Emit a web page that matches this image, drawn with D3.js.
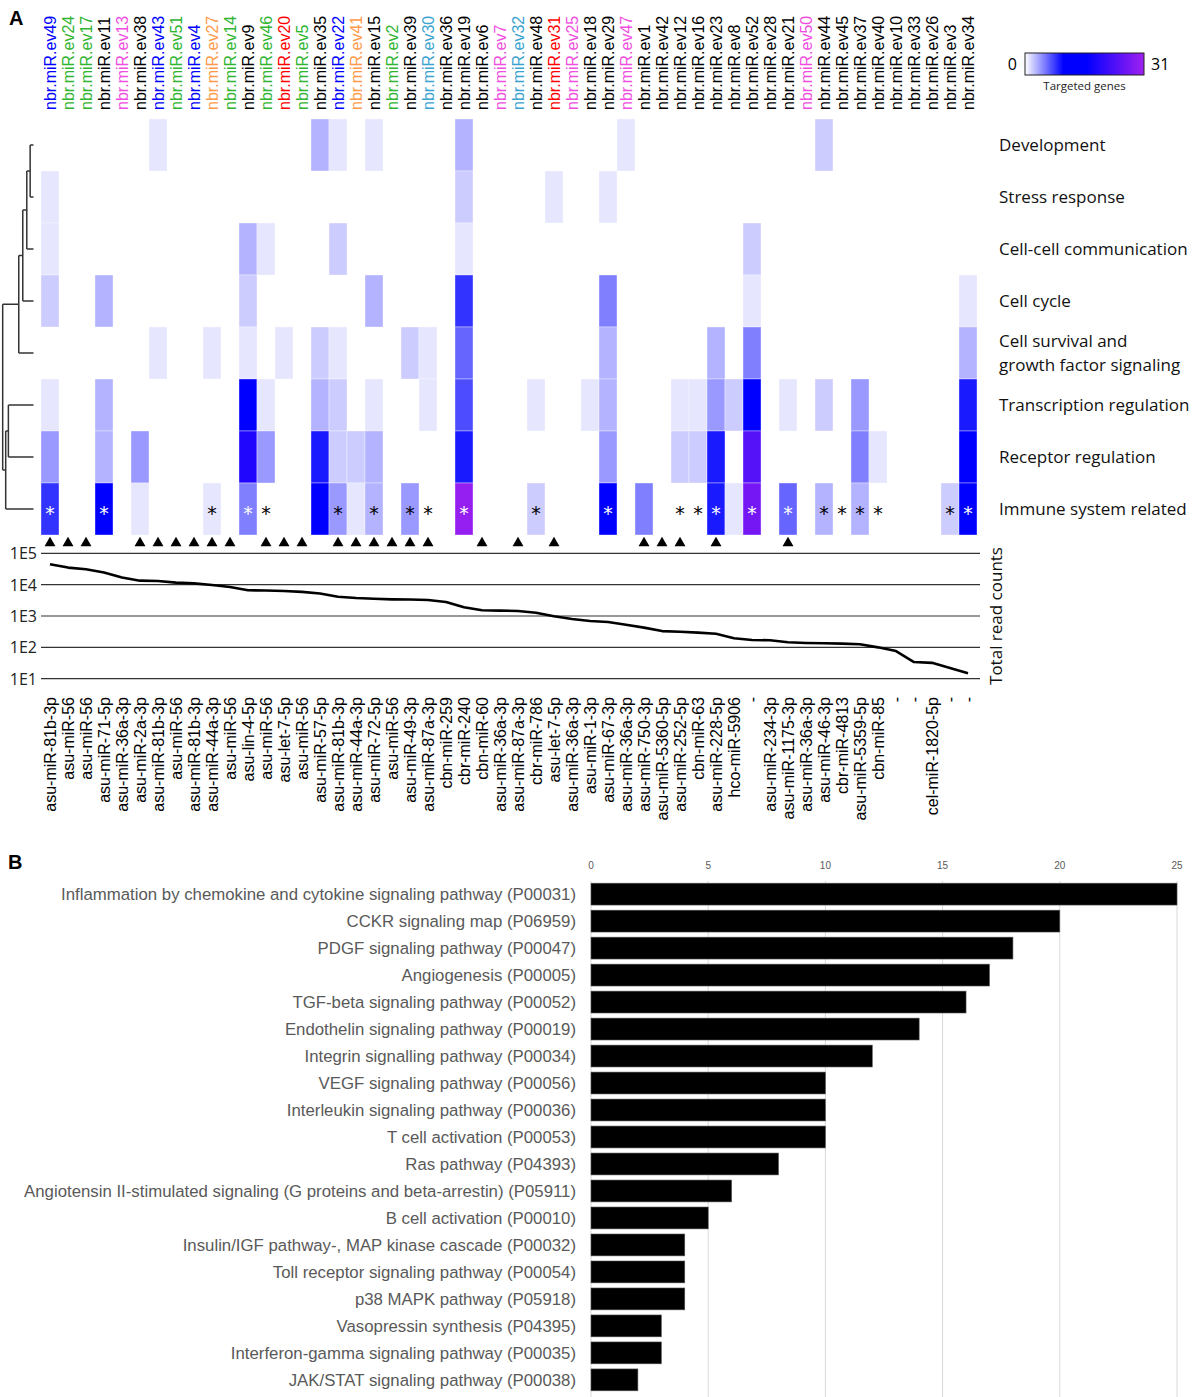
<!DOCTYPE html>
<html>
<head>
<meta charset="utf-8">
<script src="https://cdn.jsdelivr.net/npm/d3@7"></script>
<style>
  body { margin: 0; background: #fff; }
  svg { display: block; }
</style>
</head>
<body>
<div id="chart"></div>
<script>
// ---- data: panel A ----
const topLabels = ["nbr.miR.ev49","nbr.miR.ev24","nbr.miR.ev17","nbr.miR.ev11","nbr.miR.ev13","nbr.miR.ev38","nbr.miR.ev43","nbr.miR.ev51","nbr.miR.ev4","nbr.miR.ev27",
  "nbr.miR.ev14","nbr.miR.ev9","nbr.miR.ev46","nbr.miR.ev20","nbr.miR.ev5","nbr.miR.ev35","nbr.miR.ev22","nbr.miR.ev41","nbr.miR.ev15","nbr.miR.ev2",
  "nbr.miR.ev39","nbr.miR.ev30","nbr.miR.ev36","nbr.miR.ev19","nbr.miR.ev6","nbr.miR.ev7","nbr.miR.ev32","nbr.miR.ev48","nbr.miR.ev31","nbr.miR.ev25",
  "nbr.miR.ev18","nbr.miR.ev29","nbr.miR.ev47","nbr.miR.ev1","nbr.miR.ev42","nbr.miR.ev12","nbr.miR.ev16","nbr.miR.ev23","nbr.miR.ev8","nbr.miR.ev52",
  "nbr.miR.ev28","nbr.miR.ev21","nbr.miR.ev50","nbr.miR.ev44","nbr.miR.ev45","nbr.miR.ev37","nbr.miR.ev40","nbr.miR.ev10","nbr.miR.ev33","nbr.miR.ev26",
  "nbr.miR.ev3","nbr.miR.ev34"];
// b blue, g green, k black, m magenta, o orange, r red, c cyan
const topGroups = ["b","g","g","k","m","k","b","g","b","o",
  "g","k","g","r","g","k","b","o","k","g",
  "k","c","k","k","k","m","c","k","r","m",
  "k","k","m","k","k","k","k","k","k","k",
  "k","k","m","k","k","k","k","k","k","k",
  "k","k"];
const bottomLabels = ["asu-miR-81b-3p","asu-miR-56","asu-miR-56","asu-miR-71-5p","asu-miR-36a-3p","asu-miR-2a-3p","asu-miR-81b-3p","asu-miR-56","asu-miR-81b-3p","asu-miR-44a-3p",
  "asu-miR-56","asu-lin-4-5p","asu-miR-56","asu-let-7-5p","asu-miR-56","asu-miR-57-5p","asu-miR-81b-3p","asu-miR-44a-3p","asu-miR-72-5p","asu-miR-56",
  "asu-miR-49-3p","asu-miR-87a-3p","cbn-miR-259","cbr-miR-240","cbn-miR-60","asu-miR-36a-3p","asu-miR-87a-3p","cbr-miR-786","asu-let-7-5p","asu-miR-36a-3p",
  "asu-miR-1-3p","asu-miR-67-3p","asu-miR-36a-3p","asu-miR-750-3p","asu-miR-5360-5p","asu-miR-252-5p","cbn-miR-63","asu-miR-228-5p","hco-miR-5906","-",
  "asu-miR-234-3p","asu-miR-1175-3p","asu-miR-36a-3p","asu-miR-46-3p","cbr-miR-4813","asu-miR-5359-5p","cbn-miR-85","-","-","cel-miR-1820-5p",
  "-","-"];
const readCounts = [44600,35000,31000,24500,17000,13400,13100,11600,11000,9700,
  8400,6600,6500,6300,5900,5200,4100,3750,3550,3400,
  3350,3250,2800,1900,1520,1480,1450,1270,980,800,
  690,645,525,425,330,315,295,270,196,172,
  168,145,138,135,131,126,100,76,34,32,
  22,15];
const rowNames = ["Development","Stress response","Cell-cell communication","Cell cycle",
  "Cell survival and\ngrowth factor signaling","Transcription regulation","Receptor regulation","Immune system related"];

// targeted genes per category (one value per column)
const development = [0,0,0,0,0,0,1,0,0,0, 0,0,0,0,0,3,1,0,1,0, 0,0,0,3,0,0,0,0,0,0, 0,0,1,0,0,0,0,0,0,0, 0,0,0,2,0,0,0,0,0,0, 0,0];
const stress      = [1,0,0,0,0,0,0,0,0,0, 0,0,0,0,0,0,0,0,0,0, 0,0,0,2,0,0,0,0,1,0, 0,1,0,0,0,0,0,0,0,0, 0,0,0,0,0,0,0,0,0,0, 0,0];
const cellCell    = [1,0,0,0,0,0,0,0,0,0, 0,3,1,0,0,0,2,0,0,0, 0,0,0,1,0,0,0,0,0,0, 0,0,0,0,0,0,0,0,0,2, 0,0,0,0,0,0,0,0,0,0, 0,0];
const cellCycle   = [2,0,0,3,0,0,0,0,0,0, 0,2,0,0,0,0,0,0,3,0, 0,0,0,8,0,0,0,0,0,0, 0,5,0,0,0,0,0,0,0,1, 0,0,0,0,0,0,0,0,0,0, 0,1];
const survival    = [0,0,0,0,0,0,1,0,0,1, 0,1,0,1,0,2,1,0,0,0, 2,1,0,6,0,0,0,0,0,0, 0,3,0,0,0,0,0,3,0,5, 0,0,0,0,0,0,0,0,0,0, 0,3];
const transcription = [1,0,0,3,0,0,0,0,0,0, 0,12,1,0,0,3,2,0,1,0, 0,1,0,7,0,0,0,1,0,0, 1,3,0,0,0,1,1,4,2,12, 0,1,0,2,0,4,0,0,0,0, 0,9];
const receptor    = [4,0,0,3,0,4,0,0,0,0, 0,19,4,0,0,9,2,2,3,0, 0,0,0,9,0,0,0,0,0,0, 0,4,0,0,0,2,2,9,0,24, 0,0,0,0,0,5,1,0,0,0, 0,12];
const immune      = [8,0,0,12,0,1,0,0,0,1, 0,5,0,0,0,12,4,1,3,0, 4,0,0,30,0,0,0,2,0,0, 0,12,0,5,0,0,0,9,1,27, 0,6,0,3,0,3,0,0,0,0, 2,12];
const heatRows = [development, stress, cellCell, cellCycle, survival, transcription, receptor, immune];

const starCols = [0,3,9,11,12,16,18,20,21,23,27,31,35,36,37,39,41,43,44,45,46,50,51];
const triangleCols = [0,1,2,5,6,7,8,9,10,12,13,14,16,17,18,19,20,21,24,26,28,33,34,35,37,41];

// row clustering (heights are relative)
const dendro = {h: 0.92, children: [
  {h: 0.44, children: [
    {h: 0.32, children: [
      {h: 0.2, children: [
        {h: 0.1, children: [{row: 0}, {row: 1}]},
        {row: 2}]},
      {row: 3}]},
    {row: 4}]},
  {h: 0.83, children: [
    {h: 0.75, children: [{row: 5}, {row: 6}]},
    {row: 7}]}
]};

// ---- data: panel B ----
const pathways = ["Inflammation by chemokine and cytokine signaling pathway (P00031)","CCKR signaling map (P06959)",
  "PDGF signaling pathway (P00047)","Angiogenesis (P00005)","TGF-beta signaling pathway (P00052)",
  "Endothelin signaling pathway (P00019)","Integrin signalling pathway (P00034)","VEGF signaling pathway (P00056)",
  "Interleukin signaling pathway (P00036)","T cell activation (P00053)","Ras pathway (P04393)",
  "Angiotensin II-stimulated signaling (G proteins and beta-arrestin) (P05911)","B cell activation (P00010)",
  "Insulin/IGF pathway-, MAP kinase cascade (P00032)","Toll receptor signaling pathway (P00054)",
  "p38 MAPK pathway (P05918)","Vasopressin synthesis (P04395)","Interferon-gamma signaling pathway (P00035)",
  "JAK/STAT signaling pathway (P00038)"];
const pathwayGenes = [25,20,18,17,16,14,12,10,10,10,8,6,5,4,4,4,3,3,2];

// ---- drawing ----
const W = 1192, H = 1397;
const svg = d3.select("#chart").append("svg")
    .attr("width", W).attr("height", H)
    .attr("viewBox", [0, 0, W, H]);

const groupColor = {b: "#0000ff", g: "#2fb52f", k: "#000000", m: "#f04ee0", o: "#ff9a4a", r: "#ff0000", c: "#3aa3cf"};
const cols = d3.range(topLabels.length);
const x = d3.scaleBand().domain(cols).range([41, 977]);
const y = d3.scaleBand().domain(d3.range(rowNames.length)).range([119, 535]);
const color = d3.scaleLinear().domain([0, 10, 16, 31])
    .range(["#ffffff", "#0000ff", "#0000ff", "#a020f0"]);
const cx = i => x(i) + x.bandwidth() / 2;

// panel letter
svg.append("text").attr("x", 9).attr("y", 25)
    .attr("font-family", "Liberation Sans, Arial, sans-serif")
    .attr("font-weight", "bold").attr("font-size", 20).text("A");

// top labels
svg.append("g").selectAll("text")
    .data(cols)
    .join("text")
    .attr("transform", i => `translate(${cx(i)},110) rotate(-90)`)
    .attr("dy", "0.36em")
    .attr("font-family", "Liberation Sans, Arial, sans-serif")
    .attr("font-size", 16)
    .attr("fill", i => groupColor[topGroups[i]])
    .text(i => topLabels[i]);

// heatmap cells
const cells = [];
heatRows.forEach((row, r) => row.forEach((v, c) => { if (v > 0) cells.push({r, c, v}); }));
svg.append("g").selectAll("rect")
    .data(cells)
    .join("rect")
    .attr("x", d => x(d.c))
    .attr("y", d => y(d.r))
    .attr("width", x.bandwidth())
    .attr("height", y.bandwidth())
    .attr("fill", d => color(d.v))
    .attr("stroke", "#ffffff")
    .attr("stroke-opacity", 0.6)
    .attr("stroke-width", 0.6);

// asterisks on immune row
svg.append("g").selectAll("text")
    .data(starCols)
    .join("text")
    .attr("x", c => cx(c))
    .attr("y", y(7) + y.bandwidth() / 2 + 11)
    .attr("text-anchor", "middle")
    .attr("font-family", "DejaVu Sans, sans-serif")
    .attr("font-size", 19)
    .attr("fill", c => immune[c] >= 5 ? "#ffffff" : "#000000")
    .text("*");

// row labels
const rowText = svg.append("g").selectAll("text")
    .data(rowNames)
    .join("text")
    .attr("x", 999)
    .attr("y", (d, i) => y(i) + y.bandwidth() / 2 + 6)
    .attr("font-family", "Open Sans, sans-serif")
    .attr("font-size", 17)
    .attr("fill", "#111");
rowText.each(function(d) {
    const parts = d.split("\n");
    const t = d3.select(this);
    parts.forEach((p, k) => {
        t.append("tspan").attr("x", 999)
            .attr("dy", k === 0 ? (parts.length > 1 ? -12 : 0) : 24)
            .text(p);
    });
});

// dendrogram
const root = d3.hierarchy(dendro);
root.eachAfter(n => {
    n.py = n.data.row !== undefined ? y(n.data.row) + y.bandwidth() / 2 : d3.mean(n.children, c => c.py);
    n.hh = n.data.h || 0;
});
const dx = d3.scaleLinear().domain([0, 1]).range([33.5, 0]);
const dg = svg.append("g").attr("stroke", "#333").attr("stroke-width", 1.5).attr("fill", "none");
root.descendants().filter(n => n.children).forEach(n => {
    dg.append("line")
        .attr("x1", dx(n.hh)).attr("x2", dx(n.hh))
        .attr("y1", d3.min(n.children, c => c.py)).attr("y2", d3.max(n.children, c => c.py));
    n.children.forEach(c => {
        dg.append("line")
            .attr("x1", dx(n.hh)).attr("x2", dx(c.hh))
            .attr("y1", c.py).attr("y2", c.py);
    });
});

// legend
const lgX = 1025, lgY = 53, lgW = 119, lgH = 22;
const grad = svg.append("defs").append("linearGradient").attr("id", "lg");
grad.selectAll("stop")
    .data(d3.range(0, 32))
    .join("stop")
    .attr("offset", v => (v / 31 * 100) + "%")
    .attr("stop-color", v => color(v));
svg.append("rect").attr("x", lgX).attr("y", lgY).attr("width", lgW).attr("height", lgH)
    .attr("fill", "url(#lg)").attr("stroke", "#222").attr("stroke-width", 1);
svg.append("text").attr("x", lgX - 8).attr("y", lgY + 17).attr("text-anchor", "end")
    .attr("font-family", "Open Sans, sans-serif").attr("font-size", 16).text("0");
svg.append("text").attr("x", lgX + lgW + 7).attr("y", lgY + 17)
    .attr("font-family", "Open Sans, sans-serif").attr("font-size", 16).text("31");
svg.append("text").attr("x", lgX + lgW / 2).attr("y", lgY + 37).attr("text-anchor", "middle")
    .attr("font-family", "Open Sans, sans-serif").attr("font-size", 11.5).attr("fill", "#222")
    .text("Targeted genes");

// triangles
svg.append("g").selectAll("path")
    .data(triangleCols)
    .join("path")
    .attr("transform", c => `translate(${cx(c)},543)`)
    .attr("d", d3.symbol(d3.symbolTriangle, 52))
    .attr("fill", "#000");

// read count line chart
const yr = d3.scaleLog().domain([10, 1e5]).range([678.7, 553.3]);
const decades = [1e5, 1e4, 1e3, 1e2, 1e1];
svg.append("g").selectAll("line")
    .data(decades)
    .join("line")
    .attr("x1", 41).attr("x2", 980)
    .attr("y1", d => yr(d)).attr("y2", d => yr(d))
    .attr("stroke", "#333").attr("stroke-width", 1.2);
svg.append("g").selectAll("text")
    .data(decades)
    .join("text")
    .attr("x", 37).attr("y", d => yr(d) + 6)
    .attr("text-anchor", "end")
    .attr("font-family", "Open Sans, sans-serif").attr("font-size", 16).attr("fill", "#222")
    .text(d => "1E" + Math.round(Math.log10(d)));
svg.append("path")
    .datum(readCounts)
    .attr("fill", "none").attr("stroke", "#000").attr("stroke-width", 2.6)
    .attr("stroke-linejoin", "round")
    .attr("d", d3.line().x((d, i) => cx(i)).y(d => yr(d)));
svg.append("text")
    .attr("transform", "translate(1002,616) rotate(-90)")
    .attr("text-anchor", "middle")
    .attr("font-family", "Open Sans, sans-serif").attr("font-size", 17).attr("fill", "#111")
    .text("Total read counts");

// bottom labels
svg.append("g").selectAll("text")
    .data(cols)
    .join("text")
    .attr("transform", i => `translate(${cx(i)},697) rotate(-90)`)
    .attr("dy", "0.36em")
    .attr("text-anchor", "end")
    .attr("font-family", "Liberation Sans, Arial, sans-serif")
    .attr("font-size", 16)
    .attr("fill", "#000")
    .text(i => bottomLabels[i]);

// ---- panel B ----
svg.append("text").attr("x", 8).attr("y", 869)
    .attr("font-family", "Liberation Sans, Arial, sans-serif")
    .attr("font-weight", "bold").attr("font-size", 20).text("B");

const xb = d3.scaleLinear().domain([0, 25]).range([591, 1177]);
const yb = d3.scaleBand().domain(pathways).range([880.5, 1393.5]).paddingInner(0.19).paddingOuter(0.1);

svg.append("g").selectAll("line")
    .data(xb.ticks(5))
    .join("line")
    .attr("x1", d => xb(d)).attr("x2", d => xb(d))
    .attr("y1", 881).attr("y2", H)
    .attr("stroke", "#d9d9d9").attr("stroke-width", 1);
svg.append("g").selectAll("text")
    .data(xb.ticks(5))
    .join("text")
    .attr("x", d => xb(d)).attr("y", 869)
    .attr("text-anchor", "middle")
    .attr("font-family", "Liberation Sans, Arial, sans-serif").attr("font-size", 10).attr("fill", "#595959")
    .text(d => d);

svg.append("g").selectAll("rect")
    .data(pathways)
    .join("rect")
    .attr("x", xb(0))
    .attr("y", d => yb(d))
    .attr("width", (d, i) => xb(pathwayGenes[i]) - xb(0))
    .attr("height", yb.bandwidth())
    .attr("fill", "#000")
    .attr("stroke", "#555").attr("stroke-width", 0.6);

svg.append("g").selectAll("text")
    .data(pathways)
    .join("text")
    .attr("x", 576)
    .attr("y", d => yb(d) + yb.bandwidth() / 2)
    .attr("dy", "0.35em")
    .attr("text-anchor", "end")
    .attr("font-family", "Liberation Sans, Arial, sans-serif").attr("font-size", 16.8).attr("fill", "#595959")
    .text(d => d);
</script>
</body>
</html>
